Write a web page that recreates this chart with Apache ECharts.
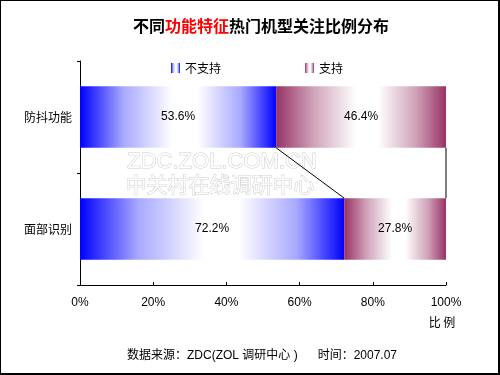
<!DOCTYPE html>
<html>
<head>
<meta charset="utf-8">
<script src="https://cdn.jsdelivr.net/npm/echarts@6/dist/echarts.min.js"></script>
<style>html,body{margin:0;padding:0;background:#fff;}#c{width:500px;height:375px;}</style>
</head>
<body>
<div id="c"></div>
<script>
var categories = ['防抖功能', '面部识别'];
var notSupported = [53.6, 72.2];
var supported = [46.4, 27.8];
var seriesNames = ['不支持', '支持'];

var FONT = "'Liberation Sans', 'Noto Sans CJK SC', sans-serif";
var CJK = "'Noto Sans CJK SC', sans-serif";

function grad(c, mid) {
  return new echarts.graphic.LinearGradient(0, 0, 1, 0, [
    {offset: 0, color: c}, {offset: 0.22, color: mid}, {offset: 0.47, color: '#ffffff'},
    {offset: 0.6, color: '#ffffff'}, {offset: 0.82, color: mid}, {offset: 1, color: c}
  ]);
}

var seriesLines = [];
var cumA = 0, cumB = 0;
[notSupported, supported].forEach(function (arr) {
  cumA += arr[0]; cumB += arr[1];
  seriesLines.push([cumA, cumB, 0]);
});

var chart = echarts.init(document.getElementById('c'), null, {renderer: 'canvas'});
var BARW = 0.55;
chart.setOption({
  animation: false,
  backgroundColor: '#ffffff',
  textStyle: {fontFamily: FONT},
  grid: {left: 80, right: 54, top: 61, bottom: 90},
  legend: {
    data: seriesNames, left: 166, top: 57, itemWidth: 9, itemHeight: 10, itemGap: 84, icon: 'rect',
    textStyle: {fontSize: 12, color: '#000', fontFamily: CJK}
  },
  xAxis: {
    type: 'value', min: 0, max: 100, interval: 20,
    axisLine: {show: true, lineStyle: {color: '#000', width: 1}},
    axisTick: {show: true, inside: true, length: 3, lineStyle: {color: '#000'}},
    splitLine: {show: false},
    axisLabel: {formatter: '{value}%', color: '#000', fontSize: 12, margin: 12, fontFamily: FONT}
  },
  yAxis: {
    type: 'category', data: categories, inverse: true,
    axisLine: {show: true, lineStyle: {color: '#000', width: 1}},
    axisTick: {show: true, length: 3, lineStyle: {color: '#000'}},
    axisLabel: {color: '#000', fontSize: 12, margin: 8, fontFamily: CJK}
  },
  series: [
    {
      name: seriesNames[0], type: 'bar', stack: 'all', data: notSupported, barWidth: '55%',
      itemStyle: {color: grad('#0000ff', '#a8a8ff')},
      label: {show: true, position: 'inside', formatter: '{c}%', color: '#000', fontSize: 12, fontFamily: FONT}
    },
    {
      name: seriesNames[1], type: 'bar', stack: 'all', data: supported, barWidth: '55%',
      itemStyle: {color: grad('#993366', '#cfa3b9')},
      label: {show: true, position: 'inside', formatter: '{c}%', color: '#000', fontSize: 12, fontFamily: FONT}
    },
    {
      type: 'custom', name: 'serieslines', data: seriesLines, encode: {x: [0, 1], y: 2}, z: 5,
      renderItem: function (params, api) {
        var half = api.size([0, 1])[1] * BARW / 2;
        var p1 = api.coord([api.value(0), 0]);
        var p2 = api.coord([api.value(1), 1]);
        return {
          type: 'line',
          shape: {x1: p1[0], y1: p1[1] + half, x2: p2[0], y2: p2[1] - half},
          style: {stroke: '#000', lineWidth: 1}
        };
      }
    }
  ],
  graphic: [
    {type: 'text', x: 261, y: 26, z: 10,
      style: {
        text: '不同{r|功能特征}热门机型关注比例分布', fill: '#000', align: 'center', verticalAlign: 'middle',
        fontSize: 16, fontWeight: 'bold', fontFamily: CJK,
        rich: {r: {fill: '#ff0000', fontSize: 16, fontWeight: 'bold', fontFamily: CJK}}
      }},
    {type: 'text', x: 222, y: 162, z: 1, silent: true,
      style: {text: 'ZDC.ZOL.COM.CN', fill: '#ffffff', stroke: '#cccccc', lineWidth: 1, align: 'center', verticalAlign: 'middle',
        fontSize: 22, fontFamily: "'Liberation Sans', sans-serif"}},
    {type: 'text', x: 220, y: 184, z: 1, silent: true,
      style: {text: '中关村在线调研中心', fill: '#ffffff', stroke: '#cccccc', lineWidth: 1, align: 'center', verticalAlign: 'middle',
        fontSize: 21, fontFamily: CJK}},
    {type: 'text', x: 442, y: 322, z: 10,
      style: {text: '比 例', fill: '#000', align: 'center', verticalAlign: 'middle', fontSize: 12, fontFamily: CJK}},
    {type: 'text', x: 262, y: 356, z: 10,
      style: {text: '数据来源：ZDC(ZOL 调研中心 )      时间：2007.07', fill: '#000', align: 'center', verticalAlign: 'middle', fontSize: 12, fontFamily: FONT}},
    {type: 'rect', shape: {x: 0, y: 0, width: 500, height: 1}, style: {fill: '#000'}, z: 20},
    {type: 'rect', shape: {x: 0, y: 0, width: 1, height: 375}, style: {fill: '#000'}, z: 20},
    {type: 'rect', shape: {x: 498, y: 0, width: 2, height: 375}, style: {fill: '#000'}, z: 20},
    {type: 'rect', shape: {x: 0, y: 373, width: 500, height: 2}, style: {fill: '#000'}, z: 20}
  ]
});
</script>
</body>
</html>
